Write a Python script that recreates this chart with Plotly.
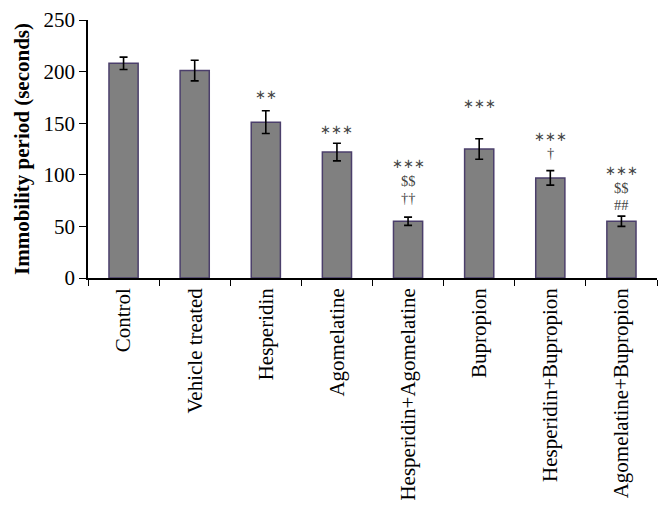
import plotly.graph_objects as go

# Immobility period per treatment group
groups = ["Control", "Vehicle treated", "Hesperidin", "Agomelatine",
          "Hesperidin+Agomelatine", "Bupropion", "Hesperidin+Bupropion",
          "Agomelatine+Bupropion"]
means = [208, 201, 151, 122, 55, 125, 97, 55]
sems = [6, 10, 11, 8.5, 4, 10, 7, 5]

# significance marks (lines separated by "|") and height of the first line, in seconds
marks = ["", "", "∗∗", "∗∗∗", "∗∗∗|$$|††", "∗∗∗", "∗∗∗|†", "∗∗∗|$$|##"]
mark_y = [None, None, 178, 144, 110.5, 169.5, 137.5, 104]

serif = "Liberation Serif"

fig = go.Figure()

fig.add_trace(go.Bar(
    x=groups,
    y=means,
    width=0.41,
    marker=dict(color="#808080", line=dict(color="#4b3f6b", width=1.5)),
    error_y=dict(type="data", array=sems, color="black", thickness=1.6, width=4),
))

for g, txt, yy in zip(groups, marks, mark_y):
    if not txt:
        continue
    for j, line in enumerate(txt.split("|")):
        star = line.startswith("∗")
        fig.add_annotation(
            x=g, y=yy, yshift=-17 * j, text=line, showarrow=False,
            yanchor="middle",
            font=dict(family=serif, size=13 if star else 14.5, color="#444444"),
        )

# page body has an 8px margin, so the figure is a bit smaller than the window
fig.update_layout(
    width=655, height=516,
    margin=dict(l=80, r=6, t=12, b=246),
    plot_bgcolor="white", paper_bgcolor="white",
    showlegend=False,
    font=dict(family=serif, color="black"),
    bargap=0.59,
)

fig.update_xaxes(
    automargin=False,
    showline=True, linecolor="black", linewidth=1.5,
    ticks="outside", tickson="boundaries", ticklen=6, tickcolor="black",
    tickangle=-90, tickfont=dict(family=serif, size=21, color="black"),
    showgrid=False,
)
fig.update_yaxes(
    automargin=False,
    range=[0, 250], dtick=50,
    showline=True, linecolor="black", linewidth=1.5,
    ticks="outside", ticklen=7, tickcolor="black",
    tickfont=dict(family=serif, size=21, color="black"),
    showgrid=False, zeroline=False,
    title=dict(text="<b>Immobility period (seconds)</b>",
               font=dict(family=serif, size=21, color="black"), standoff=8),
)

fig.write_html("out.html")
